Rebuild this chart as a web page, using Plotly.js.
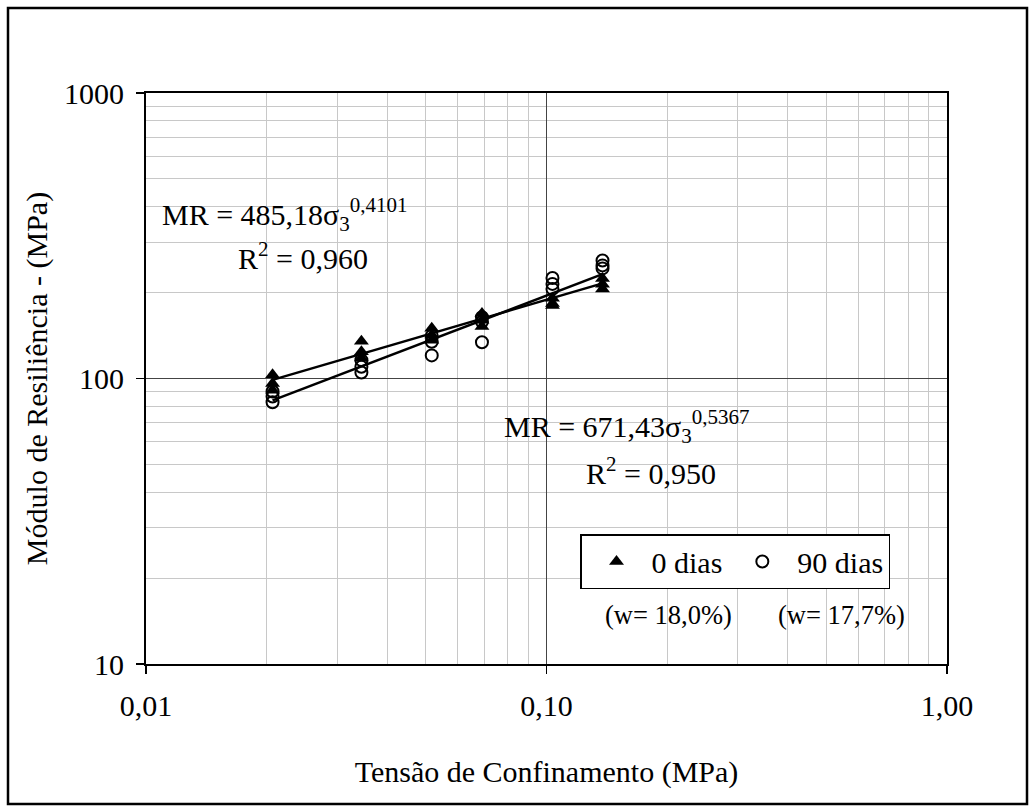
<!DOCTYPE html>
<html>
<head>
<meta charset="utf-8">
<script src="https://cdn.plot.ly/plotly-3.0.1.min.js"></script>
<style>html,body{margin:0;padding:0;background:#fff;}#chart{width:1035px;height:812px;}</style>
</head>
<body>
<div id="chart"></div>
<script>
// ---- data ----
const sigma3 = [0.0207,0.0207,0.0207, 0.0345,0.0345,0.0345, 0.0517,0.0517,0.0517, 0.069,0.069,0.069, 0.1035,0.1035,0.1035, 0.138,0.138,0.138];
const mr0dias = [103,96,91, 135,124,118, 150,142,136, 169,160,152, 191,183,180, 224,214,206];
const mr90dias = [90,86.5,82.6, 116,110,105, 141,134.5,120.5, 164,158,134, 225,214.5,206, 259,249,243];
const seriesNames = ['0 dias', '90 dias'];
const fitCoefA = [485.18, 671.43];
const fitExpB = [0.4101, 0.5367];
const eqTexts = ['MR = 485,18σ<sub>3</sub><sup>0,4101</sup>', 'MR = 671,43σ<sub>3</sub><sup>0,5367</sup>'];
const r2Texts = ['R<sup>2</sup> = 0,960', 'R<sup>2</sup> = 0,950'];
const moistureTexts = ['(w= 18,0%)', '(w= 17,7%)'];
const xTickVals = [0.01, 0.1, 1];
const xTickText = ['0,01', '0,10', '1,00'];
const yTickVals = [10, 100, 1000];
const yTickText = ['10', '100', '1000'];
const xTitle = 'Tensão de Confinamento (MPa)';
const yTitle = 'Módulo de Resiliência - (MPa)';

// ---- layout geometry ----
const W = 1035, H = 812;
const L = 146, R = 947, T = 93, B = 664;
const pw = R - L, ph = B - T;
const px = v => (v - L) / pw;
const py = v => (B - v) / ph;

function minorVals(lo, hi) {
  const out = [];
  for (let d = lo; d < hi; d *= 10) for (let k = 2; k <= 9; k++) out.push(d * k);
  return out;
}

function fitLine(i) {
  const xmin = Math.min(...sigma3), xmax = Math.max(...sigma3);
  const xs = [], ys = [];
  const n = 20;
  for (let j = 0; j <= n; j++) {
    const x = Math.pow(10, Math.log10(xmin) + (Math.log10(xmax) - Math.log10(xmin)) * j / n);
    xs.push(x); ys.push(fitCoefA[i] * Math.pow(x, fitExpB[i]));
  }
  return {x: xs, y: ys, mode: 'lines', line: {color: '#000', width: 2.5}, showlegend: false, hoverinfo: 'skip'};
}

const font = '"Liberation Serif", "Times New Roman", serif';
const txt = s => ({family: font, size: s, color: '#000'});

const data = [
  fitLine(0), fitLine(1),
  {x: sigma3, y: mr0dias, name: seriesNames[0], mode: 'markers', type: 'scatter',
   marker: {symbol: 'triangle-up', size: 13, color: '#000'}},
  {x: sigma3, y: mr90dias, name: seriesNames[1], mode: 'markers', type: 'scatter',
   marker: {symbol: 'circle-open', size: 12, color: '#000', line: {width: 2, color: '#000'}}}
];

const axisCommon = {
  type: 'log', showline: true, linecolor: '#000', linewidth: 2, mirror: true,
  ticks: 'outside', ticklen: 8, tickwidth: 1.5, tickcolor: '#000',
  showgrid: true, gridcolor: '#444', gridwidth: 1, zeroline: false,
  tickfont: txt(30), automargin: false
};

const layout = {
  width: W, height: H,
  margin: {l: L, r: W - R, t: T, b: H - B},
  paper_bgcolor: '#fff', plot_bgcolor: '#fff',
  font: txt(30),
  xaxis: Object.assign({}, axisCommon, {
    range: [-2, 0], tickmode: 'array', tickvals: xTickVals, ticktext: xTickText,
    ticklabelstandoff: 6,
    minor: {tickvals: minorVals(0.01, 1), showgrid: true, gridcolor: '#c8c8c8', gridwidth: 1, ticks: ''},
    title: {text: xTitle, font: txt(30), standoff: 40}
  }),
  yaxis: Object.assign({}, axisCommon, {
    range: [1, 3], tickmode: 'array', tickvals: yTickVals, ticktext: yTickText,
    ticklabelstandoff: 6,
    minor: {tickvals: minorVals(10, 1000), showgrid: true, gridcolor: '#c8c8c8', gridwidth: 1, ticks: ''},
    title: {text: yTitle, font: txt(30), standoff: 8}
  }),
  showlegend: true,
  legend: {
    orientation: 'h', x: px(580), y: py(534), xanchor: 'left', yanchor: 'top',
    bordercolor: '#000', borderwidth: 1.5, bgcolor: '#fff',
    font: txt(30), itemwidth: 60
  },
  annotations: [
    {text: eqTexts[0], x: px(160), y: py(214), xref: 'paper', yref: 'paper', xanchor: 'left', yanchor: 'middle', showarrow: false, font: txt(30)},
    {text: r2Texts[0], x: px(236), y: py(256), xref: 'paper', yref: 'paper', xanchor: 'left', yanchor: 'middle', showarrow: false, font: txt(30)},
    {text: eqTexts[1], x: px(502), y: py(426), xref: 'paper', yref: 'paper', xanchor: 'left', yanchor: 'middle', showarrow: false, font: txt(30)},
    {text: r2Texts[1], x: px(584), y: py(471), xref: 'paper', yref: 'paper', xanchor: 'left', yanchor: 'middle', showarrow: false, font: txt(30)},
    {text: moistureTexts[0], x: px(668), y: py(615), xref: 'paper', yref: 'paper', xanchor: 'center', yanchor: 'middle', showarrow: false, font: txt(26.5)},
    {text: moistureTexts[1], x: px(841), y: py(615), xref: 'paper', yref: 'paper', xanchor: 'center', yanchor: 'middle', showarrow: false, font: txt(26.5)}
  ],
  shapes: [
    {type: 'rect', xref: 'paper', yref: 'paper', x0: px(8), x1: px(1027), y0: py(8), y1: py(804),
     line: {color: '#000', width: 2.5}, fillcolor: 'rgba(0,0,0,0)', layer: 'above'}
  ]
};

Plotly.newPlot('chart', data, layout, {displayModeBar: false, staticPlot: true});
</script>
</body>
</html>
